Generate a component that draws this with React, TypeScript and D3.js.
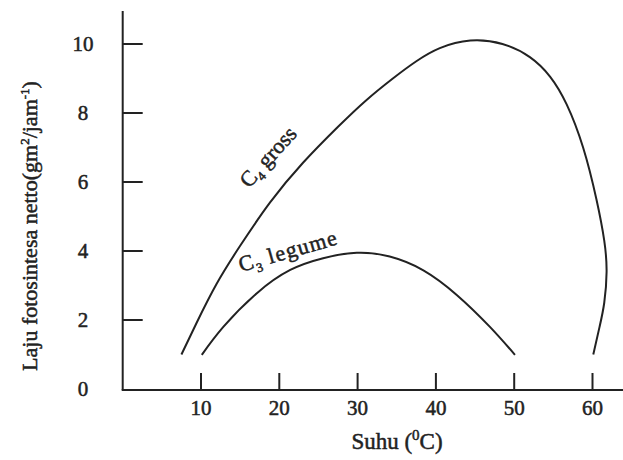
import React from "react";
import * as d3 from "d3";

const xTicks = [10, 20, 30, 40, 50, 60];
const yTicks = [0, 2, 4, 6, 8, 10];

const c4Temp = [7.5, 9.4, 12, 15, 18.8, 23, 27.5, 31, 34.5, 37.5, 40.5, 44.4, 48.5, 52, 54.6, 56.7, 58.8, 60.5, 61.5, 61.8, 61.5, 60.9, 60.1];
const c4Rate = [1.0, 1.9, 3.05, 4.15, 5.4, 6.55, 7.6, 8.35, 9.0, 9.5, 9.88, 10.1, 10.0, 9.62, 9.05, 8.25, 7.0, 5.5, 4.3, 3.4, 2.5, 1.8, 1.0];

const c3Temp = [10.1, 12.85, 17.1, 21.4, 25.6, 29.9, 34.1, 38.4, 42.7, 46.9, 50.1];
const c3Rate = [0.99, 1.8, 2.77, 3.45, 3.79, 3.95, 3.84, 3.44, 2.72, 1.8, 0.99];

const FONT = "'Liberation Serif', 'DejaVu Serif', serif";
const INK = "#222";

export default function App() {
  const W = 623, H = 460;
  const x = d3.scaleLinear().domain([0, 10]).range([122.7, 201]);
  const y = d3.scaleLinear().domain([0, 10]).range([389, 44]);
  const line = d3
    .line<[number, number]>()
    .x((d) => x(d[0]))
    .y((d) => y(d[1]))
    .curve(d3.curveNatural);
  const c4 = c4Temp.map((t, i) => [t, c4Rate[i]] as [number, number]);
  const c3 = c3Temp.map((t, i) => [t, c3Rate[i]] as [number, number]);
  const x0 = x(0), yb = y(0);
  const sw = 0.5;

  return (
    <svg
      width={W}
      height={H}
      style={{ position: "absolute", left: 0, top: 0, background: "#fff" }}
      fontFamily={FONT}
      fill={INK}
    >
      <rect width={W} height={H} fill="#fff" />
      {/* axes */}
      <line x1={x0} y1={11} x2={x0} y2={yb + 1} stroke={INK} strokeWidth={2} />
      <line x1={x0 - 1} y1={yb + 1} x2={W} y2={yb + 1} stroke={INK} strokeWidth={2} />
      {yTicks.filter((v) => v > 0).map((v) => (
        <line key={"yt" + v} x1={x0} x2={x0 + 20} y1={y(v)} y2={y(v)} stroke={INK} strokeWidth={2} />
      ))}
      {yTicks.map((v) => (
        <text key={"yl" + v} x={83} y={y(v)} dy="0.35em" textAnchor="middle" fontSize={21} stroke={INK} strokeWidth={sw}>
          {v}
        </text>
      ))}
      {xTicks.map((v) => (
        <line key={"xt" + v} x1={x(v)} x2={x(v)} y1={yb + 1} y2={yb - 16} stroke={INK} strokeWidth={2} />
      ))}
      {xTicks.map((v) => (
        <text key={"xl" + v} x={x(v)} y={415} textAnchor="middle" fontSize={21} stroke={INK} strokeWidth={sw}>
          {v}
        </text>
      ))}
      {/* axis titles */}
      <text x={397} y={449} textAnchor="middle" fontSize={23} stroke={INK} strokeWidth={sw}>
        Suhu (<tspan fontSize={15} dy={-9}>0</tspan>
        <tspan dy={9}>C)</tspan>
      </text>
      <text
        transform="translate(37,226) rotate(-90)"
        textAnchor="middle"
        fontSize={22}
        stroke={INK}
        strokeWidth={sw}
      >
        Laju fotosintesa netto(gm<tspan fontSize={13} dy={-8}>2</tspan>
        <tspan dy={8}>/jam</tspan>
        <tspan fontSize={13} dy={-8}>-1</tspan>
        <tspan dy={8}>)</tspan>
      </text>
      {/* curves */}
      <path d={line(c4) || ""} fill="none" stroke={INK} strokeWidth={2} />
      <path d={line(c3) || ""} fill="none" stroke={INK} strokeWidth={2} />
      {/* curve labels */}
      <text transform="translate(249,189) rotate(-48)" fontSize={22} stroke={INK} strokeWidth={sw}>
        C<tspan fontSize={13} dy={5}>4</tspan>
        <tspan dy={-5}> gross</tspan>
      </text>
      <text transform="translate(241,272) rotate(-16)" fontSize={22} letterSpacing={1.2} stroke={INK} strokeWidth={sw}>
        C<tspan fontSize={13} dy={5}>3</tspan>
        <tspan dy={-5}> legume</tspan>
      </text>
    </svg>
  );
}
